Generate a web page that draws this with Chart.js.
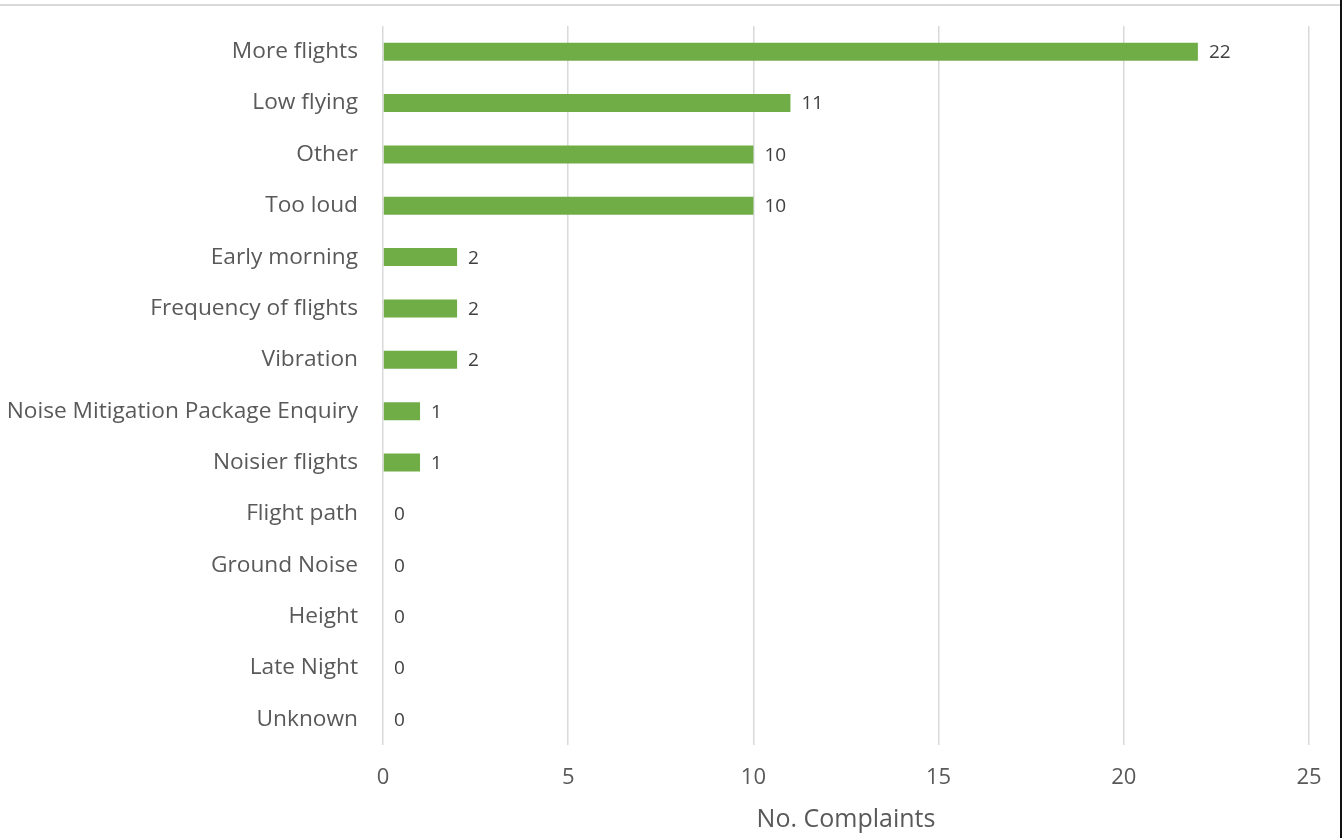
<!DOCTYPE html>
<html>
<head>
<meta charset="utf-8">
<script src="https://cdn.jsdelivr.net/npm/chart.js@4"></script>
<style>
  html, body { margin: 0; padding: 0; background: #fff; }
  #wrap { position: relative; width: 1343px; height: 838px; }
  #frameTop { position: absolute; left: 0; top: 4px; width: 1340px; height: 2px; background: #d9d9d9; }
  #frameRight { position: absolute; left: 1340px; top: 0; width: 2px; height: 838px; background: #111; }
</style>
</head>
<body>
<div id="wrap">
  <canvas id="complaints" width="1343" height="838"></canvas>
  <div id="frameTop"></div>
  <div id="frameRight"></div>
</div>
<script>
// complaint types and counts
const categories = [
  'More flights', 'Low flying', 'Other', 'Too loud', 'Early morning',
  'Frequency of flights', 'Vibration', 'Noise Mitigation Package Enquiry',
  'Noisier flights', 'Flight path', 'Ground Noise', 'Height', 'Late Night', 'Unknown'
];
const counts = [22, 11, 10, 10, 2, 2, 2, 1, 1, 0, 0, 0, 0, 0];
const xTicks = [0, 5, 10, 15, 20, 25];

const FONT = "'Open Sans', 'DejaVu Sans', sans-serif";
const TEXT = '#595959';

// writes the count just past the end of each bar
const valueLabels = {
  id: 'valueLabels',
  afterDatasetsDraw(chart) {
    const ctx = chart.ctx;
    const meta = chart.getDatasetMeta(0);
    ctx.save();
    ctx.font = '19px ' + FONT;
    ctx.fillStyle = '#404040';
    ctx.textAlign = 'left';
    ctx.textBaseline = 'middle';
    meta.data.forEach((bar, i) => {
      ctx.fillText(String(counts[i]), bar.x + 11, bar.y + 1);
    });
    ctx.restore();
  }
};

new Chart(document.getElementById('complaints'), {
  type: 'bar',
  data: {
    labels: categories,
    datasets: [{
      data: counts,
      backgroundColor: '#70ad47',
      borderWidth: 0,
      barPercentage: 0.7,
      categoryPercentage: 0.5
    }]
  },
  options: {
    indexAxis: 'y',
    responsive: false,
    animation: false,
    layout: { padding: { top: 26, right: 34, bottom: 0, left: 0 } },
    plugins: { legend: { display: false }, tooltip: { enabled: false } },
    scales: {
      x: {
        min: 0,
        max: 25,
        afterBuildTicks(scale) {
          scale.ticks = xTicks.map(v => ({ value: v }));
        },
        afterFit(scale) { scale.height = 93; },
        grid: { color: '#d9d9d9', lineWidth: 1.5, drawTicks: false },
        border: { display: false },
        ticks: { color: TEXT, font: { family: FONT, size: 22 }, padding: 20 },
        title: {
          display: true,
          text: 'No. Complaints',
          color: TEXT,
          font: { family: FONT, size: 25 },
          padding: { top: 10, bottom: 3 }
        }
      },
      y: {
        afterFit(scale) {
          scale.width = 383;
          // categories are offset, so labels never overhang the plot
          scale.paddingTop = 0;
          scale.paddingBottom = 0;
        },
        grid: { display: false },
        border: { display: false },
        ticks: { color: TEXT, font: { family: FONT, size: 22.7 }, padding: 17, autoSkip: false }
      }
    }
  },
  plugins: [valueLabels]
});
</script>
</body>
</html>
